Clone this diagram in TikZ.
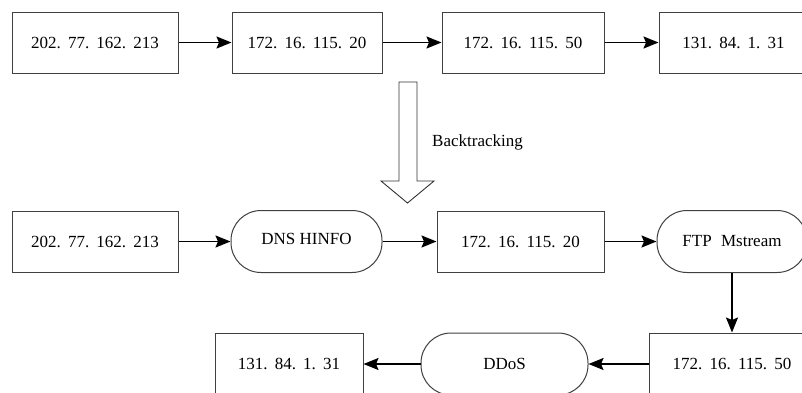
\documentclass[tikz,border=0pt]{standalone}
\usepackage{fontspec}
\setmainfont{Liberation Serif}
\usetikzlibrary{arrows.meta}
% wide separator used in the IP addresses
\newcommand\ipdot{.\hspace{0.42em}}

\begin{document}
\begin{tikzpicture}[x=1pt,y=-1pt,
  box/.style={draw=black!75, line width=1pt, fill=white, inner sep=0pt,
              font=\fontsize{17}{20}\selectfont},
  ipbox/.style={box, rectangle, minimum height=61pt},
  opbox/.style={box, rectangle, rounded corners=30pt, minimum height=62pt},
  link/.style={line width=1.7pt, draw=black,
               -{Stealth[length=15pt,width=12pt,inset=2.5pt]}},
  note/.style={font=\fontsize{17}{20}\selectfont, inner sep=0pt, anchor=west}
]
\useasboundingbox (0,0) rectangle (802,392);
\clip (0,0) rectangle (802,392);

% observed path
\node[ipbox, minimum width=166pt] (a1) at (95,42.5)    {202\ipdot 77\ipdot 162\ipdot 213};
\node[ipbox, minimum width=150pt] (a2) at (307,42.5)   {172\ipdot 16\ipdot 115\ipdot 20};
\node[ipbox, minimum width=162pt] (a3) at (523,42.5)   {172\ipdot 16\ipdot 115\ipdot 50};
\node[ipbox, minimum width=149pt] (a4) at (733.5,42.5) {131\ipdot 84\ipdot 1\ipdot 31};
\draw[link] (a1.east) -- (a2.west);
\draw[link] (a2.east) -- (a3.west);
\draw[link] (a3.east) -- (a4.west);

% hollow backtracking arrow
\draw[draw=black!80, line width=0.9pt, fill=white]
  (399,82) -- (417,82) -- (417,181) -- (434,181) -- (407.5,203)
  -- (381,181) -- (399,181) -- cycle;
\node[note] (bt) at (432,142) {Backtracking};

% reconstructed attack chain
\node[ipbox, minimum width=166pt] (b1) at (95,241.5)    {202\ipdot 77\ipdot 162\ipdot 213};
\node[opbox, minimum width=151pt] (b2) at (306.5,241.5) {\raisebox{6pt}{DNS HINFO}};
\node[ipbox, minimum width=167pt] (b3) at (520.5,241.5) {172\ipdot 16\ipdot 115\ipdot 20};
\node[opbox, minimum width=150pt] (b4) at (732,241.5)   {FTP\hspace{0.3em} Mstream};
\node[ipbox, minimum width=166pt, minimum height=62pt] (c3) at (732,364)   {172\ipdot 16\ipdot 115\ipdot 50};
\node[opbox, minimum width=167pt] (c2) at (504.5,364) {DDoS};
\node[ipbox, minimum width=148pt, minimum height=62pt] (c1) at (289,364)   {131\ipdot 84\ipdot 1\ipdot 31};
\draw[link] (b1.east) -- (b2.west);
\draw[link] (b2.east) -- (b3.west);
\draw[link] (b3.east) -- (b4.west);
\draw[link] (b4.south) -- (c3.north);
\draw[link] (c3.west) -- (c2.east);
\draw[link] (c2.west) -- (c1.east);
\end{tikzpicture}
\end{document}
